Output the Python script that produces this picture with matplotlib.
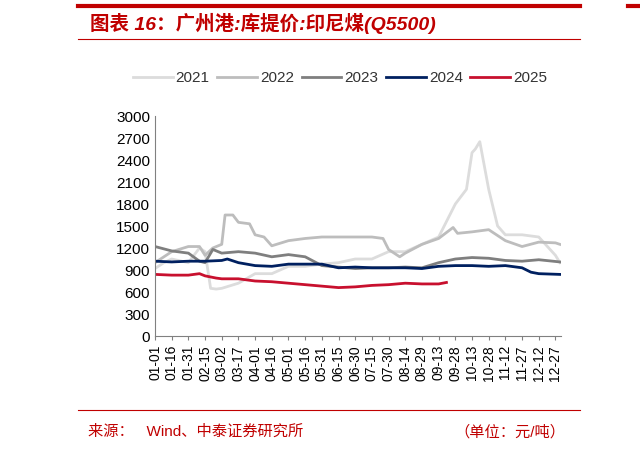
import matplotlib.pyplot as plt
from matplotlib.lines import Line2D

plt.rcParams['font.family'] = ['Liberation Sans', 'Noto Sans CJK SC', 'DejaVu Sans']

tick_labels = ['01-01', '01-16', '01-31', '02-15', '03-02', '03-17', '04-01', '04-16',
               '05-01', '05-16', '05-31', '06-15', '06-30', '07-15', '07-30', '08-14',
               '08-29', '09-13', '09-28', '10-13', '10-28', '11-12', '11-27', '12-12', '12-27']

# day-of-year positions and price values
d2021 = [0, 8, 15, 30, 40, 45, 50, 55, 60, 75, 90, 105, 120, 135, 150, 165, 180, 195, 210,
         225, 240, 255, 270, 280, 285, 288, 292, 300, 308, 315, 330, 345, 360, 364]
v2021 = [920, 1000, 1050, 1000, 1200, 1150, 650, 640, 650, 720, 850, 850, 950, 950, 980, 1000,
         1050, 1050, 1150, 1150, 1250, 1350, 1800, 2000, 2500, 2550, 2650, 2000, 1500, 1380,
         1380, 1350, 1100, 1000]
d2022 = [0, 15, 30, 40, 45, 52, 60, 63, 70, 75, 85, 90, 98, 105, 120, 135, 150, 165, 195, 205,
         210, 220, 225, 240, 255, 268, 272, 285, 300, 315, 330, 345, 360, 364]
v2022 = [1000, 1150, 1220, 1220, 1100, 1200, 1250, 1650, 1650, 1550, 1530, 1380, 1350, 1230,
         1300, 1330, 1350, 1350, 1350, 1330, 1180, 1080, 1130, 1250, 1330, 1480, 1400, 1420,
         1450, 1300, 1220, 1280, 1270, 1250]
d2023 = [0, 15, 30, 40, 45, 52, 60, 75, 90, 105, 120, 135, 150, 165, 180, 195, 210, 225, 240,
         255, 270, 285, 300, 315, 330, 345, 364]
v2023 = [1220, 1160, 1130, 1020, 1000, 1180, 1130, 1150, 1130, 1080, 1110, 1080, 960, 940,
         920, 930, 930, 940, 930, 1000, 1050, 1070, 1060, 1030, 1020, 1040, 1010]
d2024 = [0, 15, 30, 45, 60, 65, 75, 90, 105, 120, 135, 150, 165, 180, 195, 210, 225, 240, 255,
         270, 285, 300, 315, 330, 338, 345, 364]
v2024 = [1020, 1010, 1020, 1020, 1030, 1050, 1000, 960, 950, 980, 980, 980, 930, 940, 930,
         930, 930, 920, 950, 960, 960, 950, 960, 930, 870, 850, 840]
d2025 = [0, 15, 30, 40, 45, 55, 60, 75, 90, 105, 120, 135, 150, 165, 180, 195, 210, 225, 240,
         255, 262]
v2025 = [840, 830, 830, 850, 820, 790, 780, 780, 750, 740, 720, 700, 680, 660, 670, 690, 700,
         720, 710, 710, 730]

years = ['2021', '2022', '2023', '2024', '2025']
series = [(d2021, v2021), (d2022, v2022), (d2023, v2023), (d2024, v2024), (d2025, v2025)]
colors = ['#dcdcdc', '#bdbdbd', '#7f7f7f', '#002060', '#c8102e']

fig = plt.figure(figsize=(6.4, 4.53), dpi=100)
ax = fig.add_axes([155 / 640, 1 - 336 / 453, 406 / 640, 220 / 453])
for (d, v), c, y in zip(series, colors, years):
    ax.plot(d, v, color=c, lw=2, label=y)

ax.set_ylim(0, 3000)
ax.set_yticks(range(0, 3001, 300))
ax.set_xlim(0, 365)
ax.set_xticks([15 * i for i in range(len(tick_labels))])
ax.set_xticklabels(tick_labels, rotation=90, fontsize=10)
ax.tick_params(axis='y', labelsize=11, length=0)
ax.tick_params(axis='x', length=3, color='#808080')
for s in ['top', 'right']:
    ax.spines[s].set_visible(False)
for s in ['left', 'bottom']:
    ax.spines[s].set_color('#808080')

handles = [Line2D([], [], color=c, lw=2) for c in colors]
fig.legend(handles, years, loc='center', bbox_to_anchor=(340 / 640, 1 - 78 / 453), ncol=5,
           frameon=False, fontsize=11, handlelength=2.6, columnspacing=0.5, handletextpad=0.2,
           labelcolor='#333333')

red = '#c00000'
fig.add_artist(Line2D([78 / 640, 580 / 640], [1 - 6 / 453] * 2, color=red, lw=3))
fig.add_artist(Line2D([78 / 640, 580 / 640], [1 - 39 / 453] * 2, color=red, lw=0.8))
fig.add_artist(Line2D([628 / 640, 1], [1 - 6 / 453] * 2, color=red, lw=3))
fig.add_artist(Line2D([78 / 640, 580 / 640], [1 - 410 / 453] * 2, color=red, lw=0.8))
fig.text(90 / 640, 1 - 23 / 453, '图表 16：广州港:库提价:印尼煤(Q5500)', color=red, fontsize=14,
         fontweight='bold', fontstyle='italic', va='center')
fig.text(88 / 640, 1 - 432 / 453, '来源：   Wind、中泰证券研究所', color=red, fontsize=11, va='center')
fig.text(565 / 640, 1 - 432 / 453, '（单位：元/吨）', color=red, fontsize=11, va='center', ha='right')

fig.savefig('out.png', dpi=100)
